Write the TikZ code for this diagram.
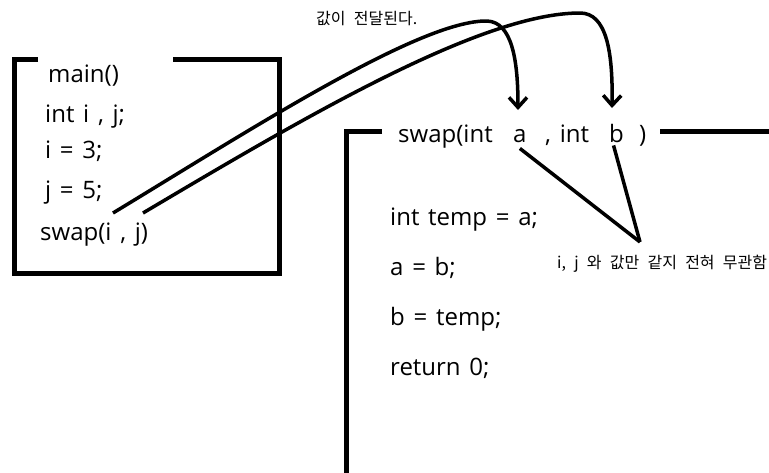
\documentclass[tikz,border=0pt]{standalone}
\usepackage{fontspec}
\setmainfont{Noto Sans CJK KR}
\newfontfamily\codefont[WordSpace=1.4]{Open Sans}
\newfontfamily\notefont[WordSpace=2.3]{Noto Sans CJK KR}
\usetikzlibrary{arrows.meta}
\begin{document}
\begin{tikzpicture}[x=1pt,y=-1pt,
  box/.style={line width=5pt},
  code/.style={anchor=base west,inner sep=0pt,font=\codefont\fontsize{24}{28}\selectfont},
  note/.style={anchor=base west,inner sep=0pt,font=\notefont\fontsize{16}{19}\selectfont},
  wire/.style={line width=3.5pt},
  pass/.style={wire,-{Straight Barb[length=10pt,width=18pt]}}]
\useasboundingbox[fill=white] (0,0) rectangle (769,472);
% main box
\draw[box] (38,59) -- (14,59) -- (14,273) -- (279,273) -- (279,59) -- (173,59);
\node[code] (mainh) at (48,82) {main()};
\node[code] (l1) at (45,122) {int i , j;};
\node[code] (l2) at (45,158) {i = 3;};
\node[code] (l3) at (45,198) {j = 5;};
\node[code] (l4) at (40,240) {swap(i , j)};
% swap box
\draw[box] (382,131) -- (346,131) -- (346,475);
\draw[box] (660,131) -- (772,131);
\node[code] (sh1) at (398,142) {swap(int};
\node[code] (pa) at (513,142) {a};
\node[code] (sh2) at (545,142) {, int};
\node[code] (pb) at (609,142) {b};
\node[code] (sh3) at (639,142) {)};
\node[code] (b1) at (390,225) {int temp = a;};
\node[code] (b2) at (390,275) {a = b;};
\node[code] (b3) at (390,325) {b = temp;};
\node[code] (b4) at (390,375) {return 0;};
% notes
\node[note] (n1) at (316,24) {값이 전달된다.};
\node[note] (n2) at (557,268) {i, j 와 값만 같지 전혀 무관함};
% connectors
\coordinate (si) at (113,213);
\coordinate (sj) at (143,213);
\coordinate (ta) at (518,110);
\coordinate (tb) at (612,108);
\coordinate (meet) at (640,242);
\draw[pass] (si) .. controls (250,130) and (420,20) .. (487,21)
  .. controls (512,22) and (518,60) .. (ta);
\draw[pass] (sj) .. controls (300,120) and (480,13) .. (580,13)
  .. controls (606,13) and (613,50) .. (tb);
\draw[wire] (pa.south) ++(0,6) coordinate (ab) -- (meet);
\draw[wire] (pb.south) ++(-3,3) coordinate (bb) -- (meet);
\end{tikzpicture}
\end{document}
